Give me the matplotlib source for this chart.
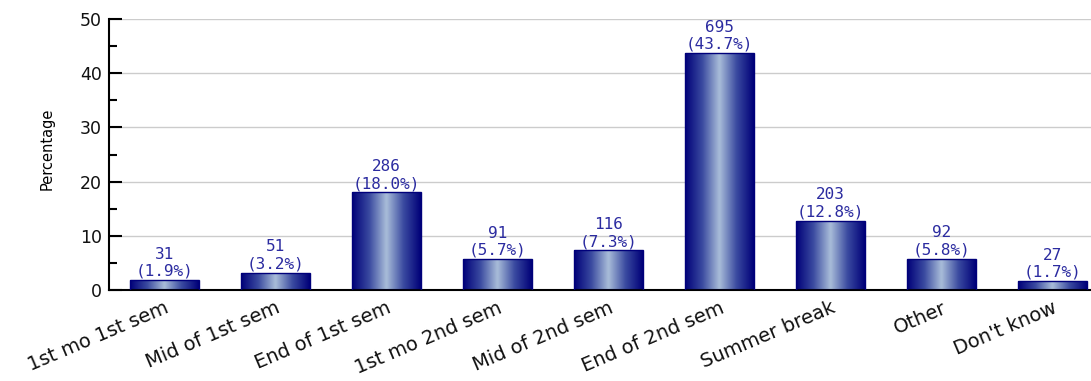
import numpy as np
import matplotlib
matplotlib.use("Agg")
import matplotlib.pyplot as plt
from matplotlib.colors import LinearSegmentedColormap

categories = ["1st mo 1st sem", "Mid of 1st sem", "End of 1st sem", "1st mo 2nd sem",
              "Mid of 2nd sem", "End of 2nd sem", "Summer break", "Other", "Don't know"]
counts = [31, 51, 286, 91, 116, 695, 203, 92, 27]
percents = [1.9, 3.2, 18.0, 5.7, 7.3, 43.7, 12.8, 5.8, 1.7]
yticks = [0, 10, 20, 30, 40, 50]

fig = plt.figure(figsize=(10.91, 3.81), dpi=100)
ax = fig.add_axes([109 / 1091, 91 / 381, 999 / 1091, 271 / 381])

x = np.arange(len(categories))
width = 0.62
bars = ax.bar(x, percents, width=width, color="none", edgecolor="#00007a", linewidth=1.0, zorder=3)

# horizontal gradient fill: navy edges, pale blue centre
cmap = LinearSegmentedColormap.from_list("barshade", ["#000078", "#3a4aa0", "#a9bdd9", "#3a4aa0", "#000078"])
grad = np.linspace(0, 1, 256).reshape(1, -1)
for b in bars:
    x0, y0 = b.get_x(), b.get_y()
    w, h = b.get_width(), b.get_height()
    im = ax.imshow(grad, cmap=cmap, aspect="auto", extent=[x0, x0 + w, y0, y0 + h],
                   zorder=2, interpolation="bicubic")
    im.set_clip_path(b)

for xi, c, p in zip(x, counts, percents):
    ax.annotate(f"{c}\n({p:.1f}%)", (xi, p), xytext=(0, 1), textcoords="offset points",
                ha="center", va="bottom", fontsize=11.5, color="#2b2ba0",
                family="DejaVu Sans Mono", linespacing=1.15, zorder=4)

ax.set_xlim(-0.5, len(categories) - 0.5)
ax.set_ylim(0, 50)
ax.set_yticks(yticks)
ax.set_yticks(np.arange(5, 50, 10), minor=True)
ax.tick_params(axis="y", which="major", direction="in", length=9, width=1.5, labelsize=12.5, pad=5)
ax.tick_params(axis="y", which="minor", direction="in", length=6, width=1.5)
ax.tick_params(axis="x", length=0, labelsize=14, pad=6)
ax.set_xticks(x)
ax.set_xticklabels(categories, rotation=23, ha="right", rotation_mode="anchor")

for t in ax.get_xticklabels() + ax.get_yticklabels():
    t.set_color("#111111")

ax.grid(axis="y", color="#cccccc", linewidth=1.0, zorder=0)
ax.set_axisbelow(True)
for s in ["top", "right"]:
    ax.spines[s].set_visible(False)
ax.spines["left"].set_linewidth(1.5)
ax.spines["bottom"].set_linewidth(1.5)

ax.set_ylabel("Percentage", fontsize=10.5)
ax.yaxis.set_label_coords(-54 / 999, 0.52)

fig.savefig("out.png", dpi=100)
